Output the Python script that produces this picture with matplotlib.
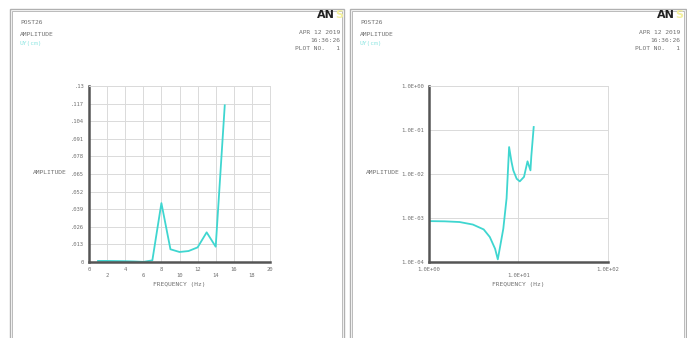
import matplotlib
matplotlib.use("Agg")
import matplotlib.pyplot as plt
from matplotlib.patches import Rectangle

# ---- data ----
lin_freq = [1, 2, 3, 4, 5, 6, 7, 8, 9, 10, 11, 12, 13, 14, 15]
lin_amp = [0.0008, 0.0008, 0.0007, 0.0006, 0.0004, 0.0001, 0.0012, 0.0435,
           0.0094, 0.0074, 0.0081, 0.0108, 0.0219, 0.0113, 0.1157]
lin_yticks = [0, 0.013, 0.026, 0.039, 0.052, 0.065, 0.078, 0.091, 0.104, 0.117, 0.13]
lin_ylabels = ["0", ".013", ".026", ".039", ".052", ".065", ".078", ".091", ".104", ".117", ".13"]
lin_xticks = [0, 2, 4, 6, 8, 10, 12, 14, 16, 18, 20]

log_freq = [1.0, 1.5, 2.2, 3.1, 4.1, 4.8, 5.5, 5.9, 6.3, 6.8, 7.4, 7.9,
            8.4, 8.8, 9.6, 10.4, 11.6, 12.7, 13.7, 14.0, 14.9]
log_amp = [8.5e-4, 8.4e-4, 8.1e-4, 7.1e-4, 5.5e-4, 3.7e-4, 2.0e-4, 1.15e-4, 2.4e-4,
           5.7e-4, 2.8e-3, 0.041, 0.019, 0.0121, 0.0078, 0.0068, 0.0086, 0.0194,
           0.0121, 0.025, 0.117]
log_yticks = [1e-4, 1e-3, 1e-2, 1e-1, 1e0]
log_ylabels = ["1.0E-04", "1.0E-03", "1.0E-02", "1.0E-01", "1.0E+00"]
log_xticks = [1, 10, 100]
log_xlabels = ["1.0E+00", "\n1.0E+01", "1.0E+02"]

W, H = 687, 338
fig = plt.figure(figsize=(W / 100, H / 100), dpi=100)
fig.patch.set_facecolor("white")

mono = "DejaVu Sans Mono"
txt_col = "#707070"
line_col = "#3fd6d0"
grid_col = "#dadada"
spine_col = "#555555"


def fx(px):
    return px / W


def fy(py):
    return 1 - py / H


# panel borders
for x0, x1 in [(10, 344), (350, 686)]:
    for off, lw in [(0, 1.0), (2, 0.6)]:
        fig.add_artist(Rectangle((fx(x0 + off), fy(H + 5)), fx(x1 - x0 - 2 * off),
                                 fy(9 + off) - fy(H + 5), fill=False,
                                 edgecolor="#b0b0b0", lw=lw, transform=fig.transFigure))

# headers
for base in (10, 350):
    fig.text(fx(base + 10), fy(22), "POST26", fontsize=4.5, family=mono, color=txt_col, va="center")
    fig.text(fx(base + 10), fy(35), "AMPLITUDE", fontsize=4.5, family=mono, color=txt_col, va="center")
    fig.text(fx(base + 10), fy(44), "UY(cm)", fontsize=4.5, family=mono, color="#8fe6e2", va="center")
    right = base + 330
    fig.text(fx(right), fy(33), "APR 12 2019", fontsize=4.5, family=mono, color=txt_col, ha="right", va="center")
    fig.text(fx(right), fy(40), "16:36:26", fontsize=4.5, family=mono, color=txt_col, ha="right", va="center")
    fig.text(fx(right), fy(48), "PLOT NO.   1", fontsize=4.5, family=mono, color=txt_col, ha="right", va="center")
    fig.text(fx(right - 5), fy(15), "AN", fontsize=8, fontweight="bold", color="#222222", ha="right", va="center")
    fig.text(fx(right - 5), fy(15), "S", fontsize=8, fontweight="bold", color="#f3f0a0",
             ha="left", va="center")


def style(ax):
    ax.set_facecolor("white")
    for s in ("top", "right"):
        ax.spines[s].set_color(grid_col)
        ax.spines[s].set_linewidth(0.7)
    for s in ("left", "bottom"):
        ax.spines[s].set_color(spine_col)
        ax.spines[s].set_linewidth(1.8)
    ax.tick_params(length=0, labelsize=4, labelcolor=txt_col, pad=3.5)
    for lab in ax.get_xticklabels() + ax.get_yticklabels():
        lab.set_family(mono)
    ax.grid(True, color=grid_col, lw=0.7)
    ax.set_axisbelow(True)


# left: linear
ax1 = fig.add_axes([fx(89), fy(262), fx(270 - 89), fy(86) - fy(262)])
ax1.plot(lin_freq, lin_amp, color=line_col, lw=1.3)
ax1.set_xlim(0, 20)
ax1.set_ylim(0, 0.13)
ax1.set_xticks(lin_xticks)
ax1.set_xticklabels([("" if i % 2 == 0 else "\n") + str(v) for i, v in enumerate(lin_xticks)])
ax1.set_yticks(lin_yticks)
ax1.set_yticklabels(lin_ylabels)
style(ax1)
ax1.set_xlabel("FREQUENCY (Hz)", fontsize=4.5, family=mono, color=txt_col, labelpad=3)
fig.text(fx(50), fy(172), "AMPLITUDE", fontsize=4.5, family=mono, color=txt_col, ha="center", va="center")

# right: log-log
ax2 = fig.add_axes([fx(429), fy(262), fx(607.5 - 429), fy(86) - fy(262)])
ax2.plot(log_freq, log_amp, color=line_col, lw=1.3)
ax2.set_xscale("log")
ax2.set_yscale("log")
ax2.set_xlim(1, 100)
ax2.set_ylim(1e-4, 1)
ax2.set_xticks(log_xticks)
ax2.set_xticklabels(log_xlabels)
ax2.minorticks_off()
ax2.set_yticks(log_yticks)
ax2.set_yticklabels(log_ylabels)
style(ax2)
ax2.set_xlabel("FREQUENCY (Hz)", fontsize=4.5, family=mono, color=txt_col, labelpad=3)
fig.text(fx(383), fy(172), "AMPLITUDE", fontsize=4.5, family=mono, color=txt_col, ha="center", va="center")

fig.savefig("out.png", dpi=100, facecolor="white")
